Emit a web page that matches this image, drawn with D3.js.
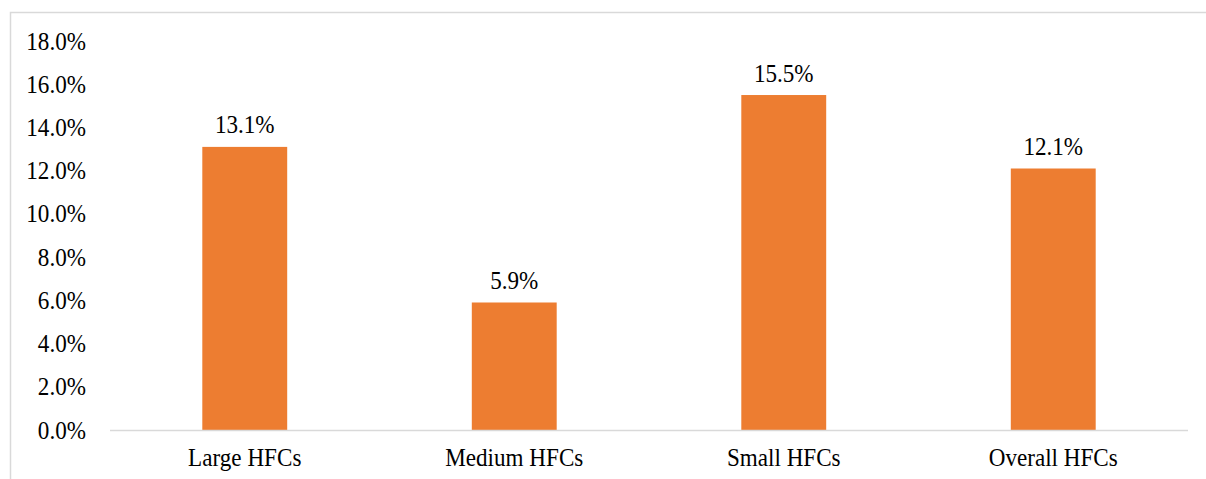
<!DOCTYPE html>
<html>
<head>
<meta charset="utf-8">
<script src="https://cdn.jsdelivr.net/npm/d3@7"></script>
<style>
  html, body { margin: 0; padding: 0; background: #fff; }
  svg { display: block; }
</style>
</head>
<body>
<svg id="chart" width="1206" height="479"></svg>
<script>
// Growth rates by HFC size group
const categories = ["Large HFCs", "Medium HFCs", "Small HFCs", "Overall HFCs"];
const values = [13.1, 5.9, 15.5, 12.1];
const yTicks = [0, 2, 4, 6, 8, 10, 12, 14, 16, 18];

const FONT = "Liberation Serif";
const FS = 25;            // font size in px
const SQUEEZE = 0.925;    // slightly condensed glyphs

const svg = d3.select("#chart");
const W = 1206, H = 479;

// chart frame
svg.append("rect")
  .attr("x", 10.5).attr("y", 12.5)
  .attr("width", W + 20).attr("height", H + 20)
  .attr("fill", "none").attr("stroke", "#d9d9d9").attr("stroke-width", 1.5);

const plot = { left: 110, right: 1188, top: 41, bottom: 430 };

const x = d3.scaleBand()
  .domain(categories)
  .range([plot.left, plot.right])
  .paddingInner(0.685).paddingOuter(0.3425);

const y = d3.scaleLinear().domain([0, 18]).range([plot.bottom, plot.top]);

// bars
svg.append("g").selectAll("rect")
  .data(values)
  .join("rect")
  .attr("x", (d, i) => x(categories[i]))
  .attr("y", d => y(d))
  .attr("width", x.bandwidth())
  .attr("height", d => y(0) - y(d))
  .attr("fill", "#ED7D31");

// value labels above bars
svg.append("g").selectAll("g")
  .data(values)
  .join("g")
  .attr("transform", (d, i) => `translate(${x(categories[i]) + x.bandwidth() / 2},${y(d) - 13.5})`)
  .append("text")
  .attr("transform", `scale(${SQUEEZE},1)`)
  .attr("text-anchor", "middle")
  .attr("font-family", FONT)
  .attr("font-size", FS)
  .attr("fill", "#000")
  .text(d => d.toFixed(1) + "%");

// y axis labels (no axis line or ticks)
const yAxis = d3.axisLeft(y).tickValues(yTicks).tickSize(0).tickPadding(0)
  .tickFormat(d => d.toFixed(1) + "%");
const gy = svg.append("g").attr("transform", `translate(86,0)`).call(yAxis)
  .attr("font-family", FONT).attr("font-size", FS);
gy.select(".domain").remove();
gy.selectAll("text").attr("fill", "#000").attr("transform", `scale(${SQUEEZE},1)`);

// category axis baseline and labels
const xAxis = d3.axisBottom(x).tickSize(0).tickPadding(0);
const gx = svg.append("g").attr("transform", `translate(0,${plot.bottom})`).call(xAxis)
  .attr("font-family", FONT).attr("font-size", FS);
gx.select(".domain").attr("stroke", "#d9d9d9").attr("stroke-width", 1.5)
  .attr("d", `M${plot.left},0.5H${plot.right}`);
gx.selectAll("text").attr("fill", "#000").attr("dy", null).attr("y", 36.5)
  .attr("transform", `scale(${SQUEEZE},1)`);
</script>
</body>
</html>
